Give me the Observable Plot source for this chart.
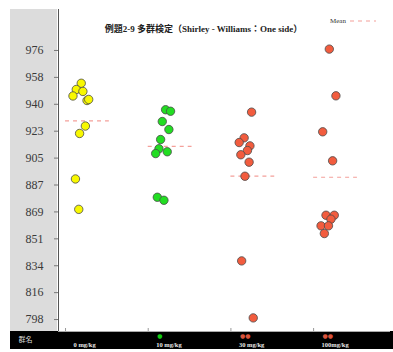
<!DOCTYPE html>
<html>
<head>
<meta charset="utf-8">
<script src="https://cdn.jsdelivr.net/npm/d3@7"></script>
<script src="https://cdn.jsdelivr.net/npm/@observablehq/plot@0.6"></script>
<style>
  html, body { margin: 0; padding: 0; background: #fff; }
  #wrap { position: relative; width: 393px; height: 352px; background: #fff; overflow: hidden; }
  #panel { position: absolute; left: 10px; top: 9px; width: 47px; height: 322px; background: #dcdcdc; }
  #band { position: absolute; left: 10px; top: 331px; width: 383px; height: 18px; background: #000; }
  #chart { position: absolute; left: 0; top: 0; }
  #legend { position: absolute; left: 330px; top: 17px; font: 7px "Liberation Serif", serif; color: #333; display: flex; align-items: center; gap: 4px; }
</style>
</head>
<body>
<div id="wrap">
  <div id="panel"></div>
  <div id="band"></div>
  <div id="chart"></div>
  <div id="legend"><span>Mean</span><svg width="26" height="6"><line x1="0" y1="3" x2="26" y2="3" stroke="#f4a09a" stroke-width="1.2" stroke-dasharray="4,4"/></svg></div>
</div>
<script>
const title = "例題2-9 多群検定（Shirley - Williams：One side）";
const axisName = "群名";
const groups = ["0 mg/kg", "10 mg/kg", "30 mg/kg", "100mg/kg"];
const groupColors = ["#f8f800", "#22dd22", "#f25c3e", "#f25c3e"];
const sigMarks = ["", "●", "●●", "●●"];
const sigColors = ["#000000", "#11cc11", "#d9533b", "#d9533b"];

const values0 = [954.3, 950.2, 948.9, 945.9, 942.9, 943.6, 926.0, 921.1, 891.0, 870.9];
const values1 = [936.8, 935.8, 929.0, 923.7, 917.1, 911.0, 907.8, 909.0, 878.9, 876.9];
const values2 = [935.2, 918.2, 915.1, 912.9, 909.8, 907.0, 902.1, 892.8, 836.8, 799.1];
const values3 = [976.9, 946.0, 922.2, 903.0, 867.0, 867.0, 864.4, 860.0, 860.0, 854.9];

// horizontal jitter (in category units)
const jitter0 = [0.19, 0.13, 0.21, 0.09, 0.26, 0.28, 0.24, 0.17, 0.12, 0.16];
const jitter1 = [0.21, 0.27, 0.17, 0.25, 0.15, 0.13, 0.09, 0.23, 0.11, 0.19];
const jitter2 = [0.25, 0.16, 0.10, 0.23, 0.20, 0.12, 0.22, 0.17, 0.13, 0.27];
const jitter3 = [0.19, 0.27, 0.11, 0.23, 0.15, 0.25, 0.21, 0.09, 0.18, 0.13];

const yTicks = [798, 815.8, 833.6, 851.4, 869.2, 887, 904.8, 922.6, 940.4, 958.2, 976];
const yTickLabels = ["798", "816", "834", "851", "869", "887", "905", "923", "940", "958", "976"];

const xDomain = [-0.085, 3.93];
const yDomain = [790.1, 1003.1];
const meanSpan = 0.53;

const allValues = [values0, values1, values2, values3];
const allJitter = [jitter0, jitter1, jitter2, jitter3];
const points = allValues.flatMap((vals, g) => vals.map((v, k) => ({g, x: g + allJitter[g][k], v})));
const means = allValues.map((vals, g) => ({g, mean: d3.mean(vals)}));
const cats = groups.map((name, g) => ({g, name, sig: sigMarks[g], sigColor: sigColors[g]}));

const serif = "'Liberation Serif', 'Noto Sans CJK JP', serif";

const chart = Plot.plot({
  width: 393,
  height: 352,
  marginTop: 9,
  marginLeft: 58,
  marginRight: 3,
  marginBottom: 21,
  style: {background: "none", fontFamily: serif},
  x: {domain: xDomain, axis: null},
  y: {domain: yDomain, axis: null},
  marks: [
    Plot.axisY({
      ticks: yTicks,
      tickFormat: d => yTickLabels[yTicks.indexOf(d)],
      tickSize: 4,
      tickPadding: 11,
      fontSize: 12,
      fontFamily: serif,
      fill: "#3a3a3a",
      stroke: "#777"
    }),
    Plot.ruleX([xDomain[0]], {stroke: "#555", strokeWidth: 1}),
    Plot.ruleY([yDomain[0]], {stroke: "#aaa"}),
    Plot.ruleX(cats, {x: "g", y1: yDomain[0], y2: yDomain[0], insetBottom: 3, stroke: "#999"}),
    Plot.ruleY(means, {y: "mean", x1: "g", x2: d => d.g + meanSpan, stroke: "#f4a09a", strokeWidth: 1.2, strokeDasharray: "4,4"}),
    Plot.dot(points, {x: "x", y: "v", r: 4.2, fill: d => groupColors[d.g], stroke: "#4a4a4a", strokeWidth: 0.8}),
    Plot.text([title], {frameAnchor: "top", dx: -21, dy: 16, fontSize: 9, fontWeight: "bold", fill: "#222", fontFamily: serif}),
    Plot.text([axisName], {frameAnchor: "bottom-left", dx: -40, dy: 10, textAnchor: "start", fontSize: 7, fill: "#ddd", fontFamily: serif}),
    Plot.text(cats, {x: "g", text: "name", frameAnchor: "bottom", dx: 8, dy: 15, textAnchor: "start", fontSize: 6.5, fontWeight: "bold", fill: "#e8e8e8", fontFamily: serif}),
    Plot.text(cats, {x: "g", text: "sig", frameAnchor: "bottom", dx: 9, dy: 6, textAnchor: "start", fontSize: 6, fill: "sigColor", fontFamily: "'DejaVu Sans', sans-serif"})
  ]
});
document.getElementById("chart").appendChild(chart);
</script>
</body>
</html>
